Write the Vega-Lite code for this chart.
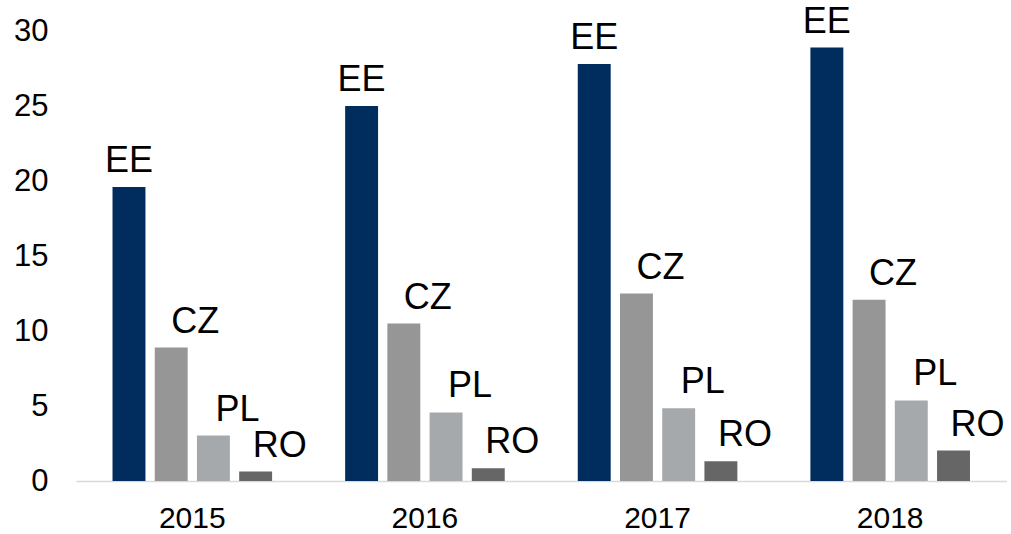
{
  "$schema": "https://vega.github.io/schema/vega-lite/v6.json",
  "autosize": "none",
  "padding": {"left": 76, "top": 31, "right": 4.5, "bottom": 53},
  "width": 930.5,
  "height": 450,
  "background": "white",
  "config": {
    "view": {"stroke": null},
    "font": "Liberation Sans",
    "axis": {"labelFont": "Liberation Sans", "labelColor": "#000000", "title": null}
  },
  "data": {
    "values": [
      {"year": "2015", "country": "EE", "value": 19.6},
      {"year": "2015", "country": "CZ", "value": 8.9},
      {"year": "2015", "country": "PL", "value": 3.03},
      {"year": "2015", "country": "RO", "value": 0.63},
      {"year": "2016", "country": "EE", "value": 25.0},
      {"year": "2016", "country": "CZ", "value": 10.5},
      {"year": "2016", "country": "PL", "value": 4.57},
      {"year": "2016", "country": "RO", "value": 0.85},
      {"year": "2017", "country": "EE", "value": 27.8},
      {"year": "2017", "country": "CZ", "value": 12.5},
      {"year": "2017", "country": "PL", "value": 4.85},
      {"year": "2017", "country": "RO", "value": 1.32},
      {"year": "2018", "country": "EE", "value": 28.9},
      {"year": "2018", "country": "CZ", "value": 12.08},
      {"year": "2018", "country": "PL", "value": 5.37},
      {"year": "2018", "country": "RO", "value": 2.03}
    ]
  },
  "encoding": {
    "x": {
      "field": "year", "type": "nominal",
      "scale": {"paddingInner": 0, "paddingOuter": 0},
      "axis": {"labelAngle": 0, "labelFontSize": 30, "ticks": false, "labelPadding": 22, "domainColor": "#d9d9d9", "domainWidth": 1.5}
    },
    "xOffset": {
      "field": "country", "type": "nominal",
      "sort": ["EE", "CZ", "PL", "RO"],
      "scale": {"paddingInner": 0.22, "paddingOuter": 0.865}
    },
    "y": {
      "field": "value", "type": "quantitative",
      "scale": {"domain": [0, 30], "nice": false},
      "axis": {"values": [0, 5, 10, 15, 20, 25, 30], "labelFontSize": 31, "ticks": false, "domain": false, "grid": false, "labelPadding": 28}
    }
  },
  "layer": [
    {
      "mark": {"type": "bar"},
      "encoding": {
        "color": {
          "field": "country", "type": "nominal", "legend": null,
          "scale": {"domain": ["EE", "CZ", "PL", "RO"], "range": ["#002d5e", "#969696", "#a6a9ac", "#666666"]}
        }
      }
    },
    {
      "transform": [{"filter": "datum.country === 'EE'"}],
      "mark": {"type": "text", "fontSize": 36, "baseline": "alphabetic", "dy": -15, "color": "#000000", "font": "Liberation Sans"},
      "encoding": {"text": {"field": "country"}}
    },
    {
      "transform": [{"filter": "datum.country !== 'EE'"}],
      "mark": {"type": "text", "fontSize": 36, "baseline": "alphabetic", "dy": -15, "dx": 24, "color": "#000000", "font": "Liberation Sans"},
      "encoding": {"text": {"field": "country"}}
    }
  ]
}
